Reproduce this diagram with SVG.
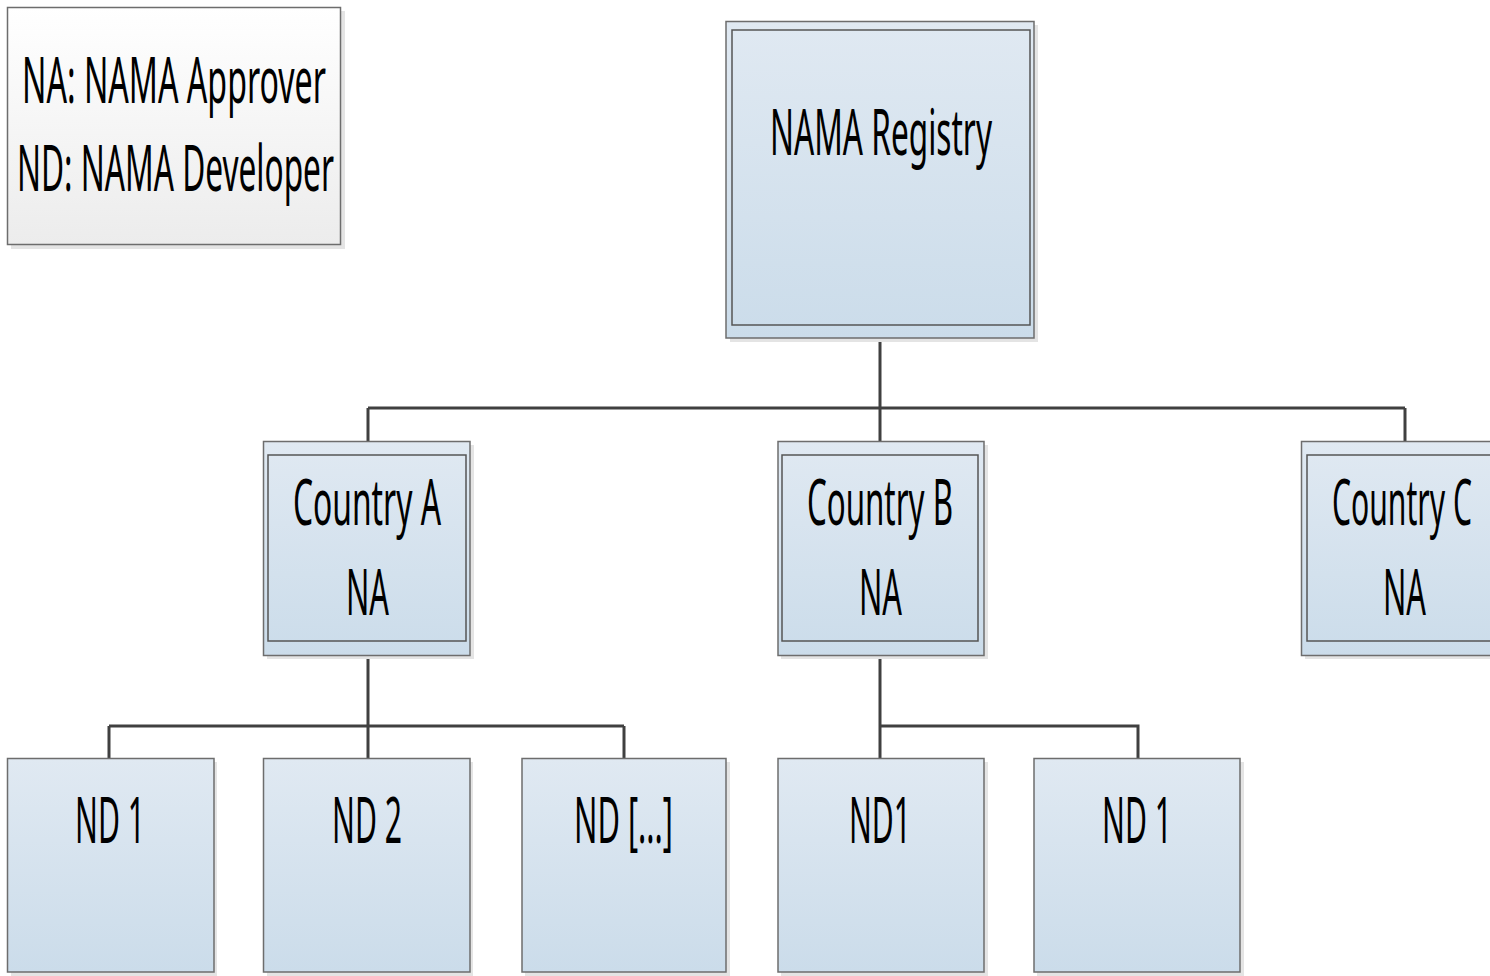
<svg xmlns="http://www.w3.org/2000/svg" width="1490" height="976" viewBox="0 0 1490 976">
<defs>
<linearGradient id="blue" x1="0" y1="0" x2="0" y2="1">
<stop offset="0" stop-color="#e0e9f2"/>
<stop offset="1" stop-color="#cbdcea"/>
</linearGradient>
<linearGradient id="grey" x1="0" y1="0" x2="0" y2="1">
<stop offset="0" stop-color="#ffffff"/>
<stop offset="1" stop-color="#ececec"/>
</linearGradient>
</defs>
<style>
.shadow{fill:#e4e4e4}
.box{fill:url(#blue);stroke:#6d6d6d;stroke-width:1.5}
.inner{fill:none;stroke:#555555;stroke-width:1.5}
.legend{fill:url(#grey);stroke:#6d6d6d;stroke-width:1.5}
.t{font-family:"Noto Sans","Open Sans",sans-serif;font-size:64px;fill:#000000}
.conn{fill:none;stroke:#404040;stroke-width:3}
</style>
<rect width="1490" height="976" fill="#ffffff"/>

<g id="connectors">
<path class="conn" d="M880 338V408M368 408H1405M368 408V441M880 408V441M1405 408V441"/>
<path class="conn" d="M368 655V726M109 726H624M109 726V758M368 726V758M624 726V758"/>
<path class="conn" d="M880 655V726H1138V758M880 726V758"/>
</g>

<g id="legend">
<rect class="shadow" x="11" y="11" width="334" height="238"/>
<rect class="legend" x="7.5" y="7.5" width="333" height="237"/>
<text class="t" x="22" y="103" textLength="304" lengthAdjust="spacingAndGlyphs">NA: NAMA Approver</text>
<text class="t" x="17" y="191" textLength="317" lengthAdjust="spacingAndGlyphs">ND: NAMA Developer</text>
</g>

<g id="registry">
<rect class="shadow" x="730" y="25" width="308" height="317"/>
<rect class="box" x="726" y="21.5" width="308" height="316.5"/>
<rect class="inner" x="732" y="30" width="298" height="295"/>
<text class="t" x="770" y="155" textLength="222" lengthAdjust="spacingAndGlyphs">NAMA Registry</text>
</g>

<g id="countryA">
<rect class="shadow" x="267" y="445" width="207" height="214"/>
<rect class="box" x="263.5" y="441.5" width="206.5" height="214"/>
<rect class="inner" x="268" y="455" width="198" height="186"/>
<text class="t" x="293" y="525" textLength="148" lengthAdjust="spacingAndGlyphs">Country A</text>
<text class="t" x="346" y="615" textLength="43" lengthAdjust="spacingAndGlyphs">NA</text>
</g>

<g id="countryB">
<rect class="shadow" x="781" y="445" width="207" height="214"/>
<rect class="box" x="778" y="441.5" width="206" height="214"/>
<rect class="inner" x="782" y="455" width="196" height="186"/>
<text class="t" x="807" y="525" textLength="146" lengthAdjust="spacingAndGlyphs">Country B</text>
<text class="t" x="859" y="615" textLength="43" lengthAdjust="spacingAndGlyphs">NA</text>
</g>

<g id="countryC">
<rect class="shadow" x="1305" y="445" width="207" height="214"/>
<rect class="box" x="1301.5" y="441.5" width="206" height="214"/>
<rect class="inner" x="1307" y="455" width="196" height="186"/>
<text class="t" x="1332" y="525" textLength="140" lengthAdjust="spacingAndGlyphs">Country C</text>
<text class="t" x="1383" y="615" textLength="43" lengthAdjust="spacingAndGlyphs">NA</text>
</g>

<g id="nd1">
<rect class="shadow" x="11" y="762" width="206" height="214"/>
<rect class="box" x="7.5" y="758.5" width="206.5" height="213.5"/>
<text class="t" x="75" y="843" textLength="70" lengthAdjust="spacingAndGlyphs">ND 1</text>
</g>

<g id="nd2">
<rect class="shadow" x="267" y="762" width="206" height="214"/>
<rect class="box" x="263.5" y="758.5" width="206.5" height="213.5"/>
<text class="t" x="332" y="843" textLength="70" lengthAdjust="spacingAndGlyphs">ND 2</text>
</g>

<g id="ndmore">
<rect class="shadow" x="525" y="762" width="205" height="214"/>
<rect class="box" x="522" y="758.5" width="204" height="213.5"/>
<text class="t" x="574" y="843" textLength="99" lengthAdjust="spacingAndGlyphs">ND [...]</text>
</g>

<g id="ndB1">
<rect class="shadow" x="781" y="762" width="207" height="214"/>
<rect class="box" x="778" y="758.5" width="206" height="213.5"/>
<text class="t" x="849" y="843" textLength="62" lengthAdjust="spacingAndGlyphs">ND1</text>
</g>

<g id="ndB2">
<rect class="shadow" x="1037" y="762" width="207" height="214"/>
<rect class="box" x="1034" y="758.5" width="206" height="213.5"/>
<text class="t" x="1102" y="843" textLength="70" lengthAdjust="spacingAndGlyphs">ND 1</text>
</g>
</svg>
